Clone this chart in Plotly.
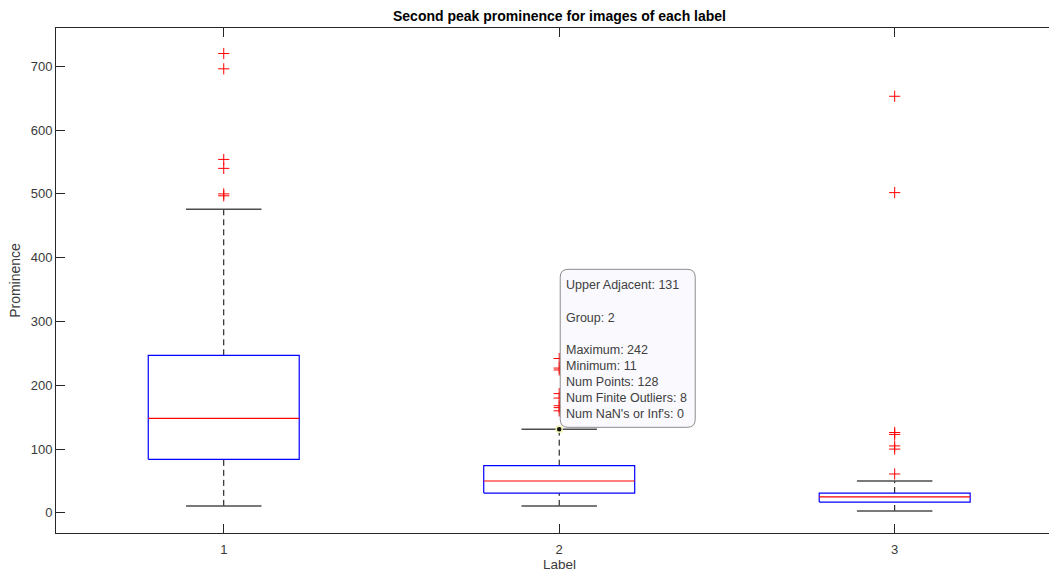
import plotly.graph_objects as go

# ---------------- data ----------------
labels = [1, 2, 3]
tick_text = ["1", "2", "3"]
q1 = [84, 31, 17]
medians = [148, 50, 25]
q3 = [247, 74, 31]
lower_adjacent = [11, 11, 3]
upper_adjacent = [476, 131, 50]
outliers_1 = [720, 696, 554, 540, 500, 497]
outliers_2 = [242, 227, 224, 187, 180, 168, 165, 160]
outliers_3 = [653, 502, 126, 123, 105, 100, 61]
outliers = [outliers_1, outliers_2, outliers_3]
y_ticks = [0, 100, 200, 300, 400, 500, 600, 700]

tip_group = 2
tip_lines = ["Upper Adjacent: 131", "", "Group: 2", "", "Maximum: 242", "Minimum: 11",
             "Num Points: 128", "Num Finite Outliers: 8", "Num NaN's or Inf's: 0"]

title_text = "Second peak prominence for images of each label"
x_title = "Label"
y_title = "Prominence"

# ---------------- style ----------------
FONT = "Liberation Sans, Arial, Helvetica, sans-serif"
AX = "#262626"
TXT = "#3a3a3a"
box_w = 0.45
cap_w = 0.225

fig = go.Figure()

for i, p in enumerate(labels):
    # whiskers (dashed)
    fig.add_trace(go.Scatter(x=[p, p], y=[q3[i], upper_adjacent[i]], mode="lines",
                             line=dict(color="black", width=1, dash="6px,4px"),
                             hoverinfo="skip", showlegend=False))
    fig.add_trace(go.Scatter(x=[p, p], y=[lower_adjacent[i], q1[i]], mode="lines",
                             line=dict(color="black", width=1, dash="6px,4px"),
                             hoverinfo="skip", showlegend=False))
    # caps
    for v in (upper_adjacent[i], lower_adjacent[i]):
        fig.add_trace(go.Scatter(x=[p - cap_w / 2, p + cap_w / 2], y=[v, v], mode="lines",
                                 line=dict(color="#4d4d4d", width=1.5),
                                 hoverinfo="skip", showlegend=False))
    # box
    fig.add_trace(go.Scatter(x=[p - box_w / 2, p + box_w / 2, p + box_w / 2, p - box_w / 2, p - box_w / 2],
                             y=[q1[i], q1[i], q3[i], q3[i], q1[i]], mode="lines",
                             line=dict(color="#0000ff", width=1.2),
                             hoverinfo="skip", showlegend=False))
    # median
    fig.add_trace(go.Scatter(x=[p - box_w / 2, p + box_w / 2], y=[medians[i], medians[i]], mode="lines",
                             line=dict(color="#ff0000", width=1.2),
                             hoverinfo="skip", showlegend=False))
    # outliers
    fig.add_trace(go.Scatter(x=[p] * len(outliers[i]), y=outliers[i], mode="markers",
                             marker=dict(symbol="cross-thin", size=8,
                                         line=dict(color="#ff0000", width=1)),
                             hoverinfo="skip", showlegend=False))

# data tip marker
gi = labels.index(tip_group)
fig.add_trace(go.Scatter(x=[tip_group], y=[upper_adjacent[gi]], mode="markers",
                         marker=dict(color="#111111", size=6,
                                     line=dict(color="#f0f0b0", width=1.5)),
                         hoverinfo="skip", showlegend=False))

# data tip box (rounded, in pixels relative to the tip point)
x0, x1, y0, y1, r = 1, 136, 2, 160, 8
path = (f"M {x0 + r},{y0} L {x1 - r},{y0} Q {x1},{y0} {x1},{y0 + r} "
        f"L {x1},{y1 - r} Q {x1},{y1} {x1 - r},{y1} L {x0 + r},{y1} "
        f"Q {x0},{y1} {x0},{y1 - r} L {x0},{y0 + r} Q {x0},{y0} {x0 + r},{y0} Z")
fig.add_shape(type="path", xref="x", yref="y", xsizemode="pixel", ysizemode="pixel",
              xanchor=tip_group, yanchor=upper_adjacent[gi], path=path,
              fillcolor="#f9f9fe", line=dict(color="#8c8c8c", width=1), layer="above")

for k, line in enumerate(tip_lines):
    if not line:
        continue
    fig.add_annotation(x=tip_group, y=upper_adjacent[gi], xref="x", yref="y",
                       text=line, showarrow=False, xanchor="left", yanchor="middle",
                       xshift=5, yshift=144 - 16.1 * k,
                       font=dict(family=FONT, size=12.5, color="#404040"))

# title and axis titles centred on the middle group
fig.add_annotation(x=labels[1], y=1, xref="x", yref="paper", yshift=2,
                   text=f"<b>{title_text}</b>", showarrow=False, yanchor="bottom",
                   font=dict(family=FONT, size=14, color="black"))
fig.add_annotation(x=labels[1], y=0, xref="x", yref="paper", yshift=-31,
                   text=x_title, showarrow=False, yanchor="middle",
                   font=dict(family=FONT, size=13.5, color=TXT))

fig.update_layout(
    width=1049, height=571,
    margin=dict(l=56, r=0, t=28, b=38),
    paper_bgcolor="white", plot_bgcolor="white",
    font=dict(family=FONT, size=13, color=TXT),
    showlegend=False,
    hovermode=False,
)
fig.update_xaxes(range=[0.5, 3.46], tickvals=labels, ticktext=tick_text,
                 ticks="inside", ticklen=9, tickcolor=AX, tickwidth=1,
                 showline=True, linecolor=AX, linewidth=1, mirror="allticks",
                 showgrid=False, zeroline=False, tickfont=dict(size=13, color=TXT),
                 ticklabelstandoff=4)
fig.update_yaxes(range=[-31.5, 760], tickvals=y_ticks,
                 ticks="inside", ticklen=9, tickcolor=AX, tickwidth=1,
                 showline=True, linecolor=AX, linewidth=1,
                 showgrid=False, zeroline=False, tickfont=dict(size=13, color=TXT),
                 title=dict(text=y_title, font=dict(size=14, color=TXT), standoff=6))

fig.write_html("out.html")
